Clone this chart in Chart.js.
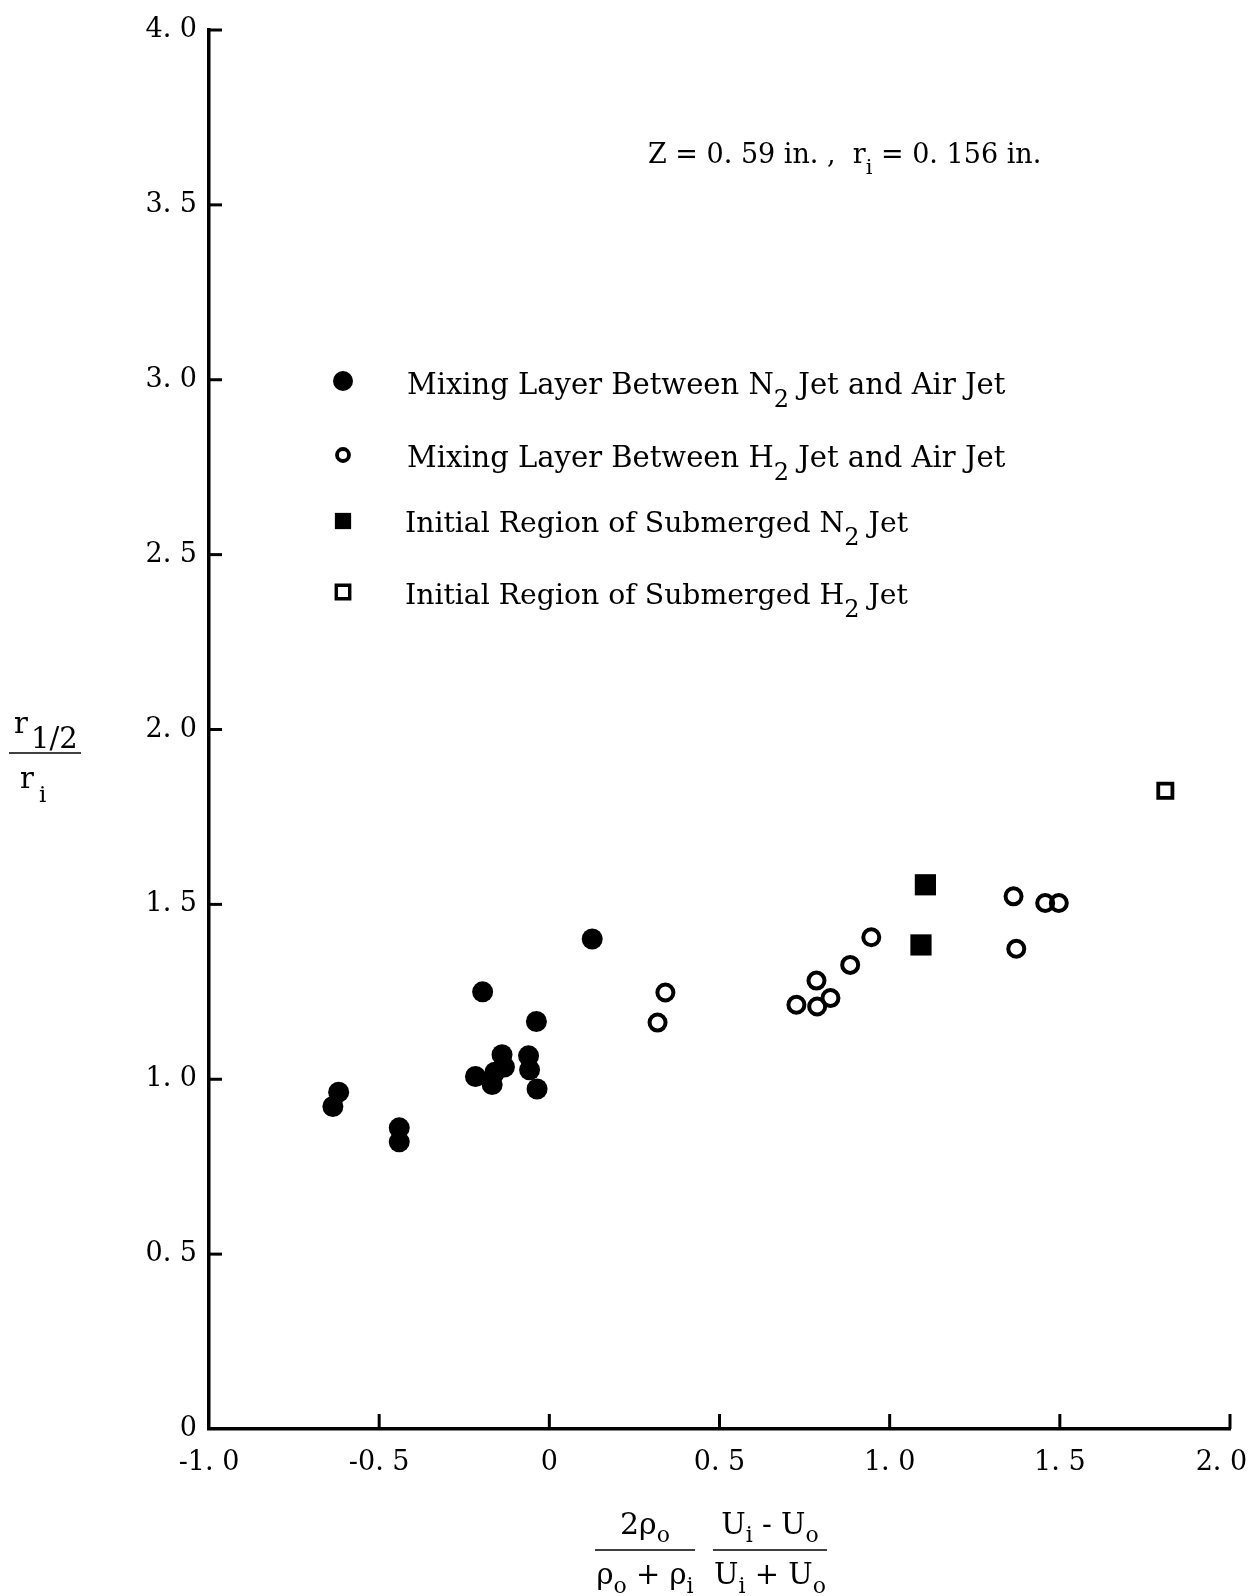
<!DOCTYPE html>
<html><head><meta charset="utf-8">
<script src="https://cdn.jsdelivr.net/npm/chart.js@4.4.1/dist/chart.umd.min.js"></script>
<style>html,body{margin:0;padding:0;background:#fff;}canvas{display:block;background:#fff;}</style>
</head><body>
<canvas id="c" width="1249" height="1596"></canvas>
<script>
// ---- data ----
const xTickLabels = ["-1. 0", "-0. 5", "0", "0. 5", "1. 0", "1. 5", "2. 0  "];
const yTickLabels = ["0", "0. 5", "1. 0", "1. 5", "2. 0", "2. 5", "3. 0", "3. 5", "4. 0"];

const n2MixX = [-0.636, -0.619, -0.441, -0.441, -0.217, -0.196, -0.168, -0.160, -0.139, -0.132, -0.061, -0.058, -0.038, -0.036, 0.126];
const n2MixY = [ 0.922,  0.963,  0.861,  0.821,  1.008,  1.250,  0.985,  1.020,  1.070,  1.035,  1.067,  1.027,  1.165,  0.972, 1.401];

const h2MixX = [0.318, 0.341, 0.726, 0.785, 0.787, 0.826, 0.884, 0.946, 1.364, 1.372, 1.457, 1.497];
const h2MixY = [1.162, 1.248, 1.213, 1.282, 1.208, 1.232, 1.327, 1.406, 1.523, 1.373, 1.504, 1.504];

const n2SubX = [1.105, 1.092];
const n2SubY = [1.556, 1.384];

const h2SubX = [1.810];
const h2SubY = [1.825];

const legendLabels = [
  [["Mixing Layer Between N", 0], ["2", 1], [" Jet and Air Jet", 0]],
  [["Mixing Layer Between H", 0], ["2", 1], [" Jet and Air Jet", 0]],
  [["Initial Region of Submerged N", 0], ["2", 1], [" Jet", 0]],
  [["Initial Region of Submerged H", 0], ["2", 1], [" Jet", 0]]
];
const noteText = [["Z = 0. 59 in. ,  r", 0], ["i", 1], [" = 0. 156 in.", 0]];

const FAM = "'DejaVu Serif', serif";
const toPts = (xs, ys) => xs.map((x, i) => ({x: x, y: ys[i]}));

function drawRich(ctx, parts, x, y, size, subSize, drop, align) {
  let w = 0;
  parts.forEach(p => { ctx.font = (p[1] ? subSize : size) + "px " + FAM; w += ctx.measureText(p[0]).width; });
  let cx = align === 'center' ? x - w / 2 : x;
  parts.forEach(p => {
    ctx.font = (p[1] ? subSize : size) + "px " + FAM;
    ctx.fillText(p[0], cx, y + (p[1] ? drop : 0));
    cx += ctx.measureText(p[0]).width;
  });
  return w;
}

const inwardTicks = {
  id: 'inwardTicks',
  afterDatasetsDraw(chart) {
    const {ctx, chartArea: a, scales: {x, y}} = chart;
    ctx.save();
    ctx.strokeStyle = '#000'; ctx.lineWidth = 3;
    x.ticks.forEach(t => {
      if (t.value === x.min) return;
      const px = x.getPixelForValue(t.value);
      ctx.beginPath(); ctx.moveTo(px, a.bottom); ctx.lineTo(px, a.bottom - 15); ctx.stroke();
    });
    y.ticks.forEach(t => {
      if (t.value === y.min) return;
      const py = y.getPixelForValue(t.value);
      ctx.beginPath(); ctx.moveTo(a.left, py); ctx.lineTo(a.left + 13, py); ctx.stroke();
    });
    ctx.restore();
  }
};

const textOverlay = {
  id: 'textOverlay',
  afterDraw(chart) {
    const ctx = chart.ctx;
    ctx.save();
    ctx.fillStyle = '#000'; ctx.strokeStyle = '#000';
    ctx.textBaseline = 'alphabetic'; ctx.textAlign = 'left';

    // legend
    const rowsY = [381, 455, 521, 592];
    const baseY = [394, 467, 532, 604];
    const sizes = [29, 29, 28.3, 28.3];
    const mk = [
      {style: 'circle', r: 10, fill: '#000', bw: 0},
      {style: 'circle', r: 6, fill: 'rgba(0,0,0,0)', bw: 3.8},
      {style: 'rect', r: 11.5, fill: '#000', bw: 0},
      {style: 'rect', r: 9.5, fill: 'rgba(0,0,0,0)', bw: 3.4}
    ];
    legendLabels.forEach((parts, i) => {
      ctx.fillStyle = mk[i].fill; ctx.lineWidth = mk[i].bw;
      Chart.helpers.drawPoint(ctx, {pointStyle: mk[i].style, radius: mk[i].r, rotation: 0, borderWidth: mk[i].bw}, 343, rowsY[i]);
      ctx.fillStyle = '#000';
      drawRich(ctx, parts, i < 2 ? 407 : 405, baseY[i], sizes[i], 24, 13, 'left');
    });

    // note
    drawRich(ctx, noteText, 648, 163, 27, 21, 11, 'left');

    // y title
    ctx.textAlign = 'left';
    ctx.font = "29px " + FAM; ctx.fillText("r", 14, 733);
    ctx.font = "29px " + FAM; ctx.fillText("1/2", 31, 748);
    ctx.lineWidth = 1.5; ctx.beginPath(); ctx.moveTo(9, 753); ctx.lineTo(81, 753); ctx.stroke();
    ctx.font = "29px " + FAM; ctx.fillText("r", 20, 788);
    ctx.font = "23px " + FAM; ctx.fillText("i", 39, 802);

    // x title
    const f1 = 645, f2 = 770, lineY = 1550;
    ctx.lineWidth = 1.5;
    ctx.beginPath(); ctx.moveTo(595, lineY); ctx.lineTo(695, lineY); ctx.stroke();
    ctx.beginPath(); ctx.moveTo(713, lineY); ctx.lineTo(827, lineY); ctx.stroke();
    drawRich(ctx, [["2ρ", 0], ["o", 1]], f1, 1534, 30, 22, 8, 'center');
    drawRich(ctx, [["ρ", 0], ["o", 1], [" + ρ", 0], ["i", 1]], f1, 1584, 29, 22, 9, 'center');
    drawRich(ctx, [["U", 0], ["i", 1], [" - U", 0], ["o", 1]], f2, 1534, 29, 22, 8, 'center');
    drawRich(ctx, [["U", 0], ["i", 1], [" + U", 0], ["o", 1]], f2, 1584, 29, 22, 9, 'center');
    ctx.restore();
  }
};

Chart.defaults.font.family = FAM;
Chart.defaults.color = '#000';

new Chart(document.getElementById('c'), {
  type: 'scatter',
  data: {
    datasets: [
      {label: 'N2 mixing', data: toPts(n2MixX, n2MixY), pointStyle: 'circle', pointRadius: 10.5, backgroundColor: '#000', borderColor: '#000', borderWidth: 0},
      {label: 'H2 mixing', data: toPts(h2MixX, h2MixY), pointStyle: 'circle', pointRadius: 8, backgroundColor: 'rgba(0,0,0,0)', borderColor: '#000', borderWidth: 4},
      {label: 'N2 submerged', data: toPts(n2SubX, n2SubY), pointStyle: 'rect', pointRadius: 15, backgroundColor: '#000', borderColor: '#000', borderWidth: 0},
      {label: 'H2 submerged', data: toPts(h2SubX, h2SubY), pointStyle: 'rect', pointRadius: 10, backgroundColor: 'rgba(0,0,0,0)', borderColor: '#000', borderWidth: 3.8}
    ]
  },
  options: {
    responsive: false,
    animation: false,
    events: [],
    layout: {padding: {top: 30, right: 19, left: 0, bottom: 0}},
    plugins: {legend: {display: false}, tooltip: {enabled: false}},
    scales: {
      x: {
        type: 'linear', min: -1, max: 2,
        ticks: {stepSize: 0.5, autoSkip: false, maxRotation: 0, padding: 18, color: '#000', font: {size: 27},
          callback: (v, i) => xTickLabels[i]},
        grid: {display: true, drawOnChartArea: false, drawTicks: false},
        border: {display: true, color: '#000', width: 3.5},
        afterFit(s) { s.height = 167; s.paddingLeft = 0; s.paddingRight = 0; }
      },
      y: {
        type: 'linear', min: 0, max: 4,
        ticks: {stepSize: 0.5, autoSkip: false, padding: 12, color: '#000', font: {size: 27},
          callback: (v, i) => yTickLabels[i]},
        grid: {display: true, drawOnChartArea: false, drawTicks: false},
        border: {display: true, color: '#000', width: 3.5},
        afterFit(s) { s.width = 209; s.paddingTop = 0; s.paddingBottom = 0; }
      }
    }
  },
  plugins: [inwardTicks, textOverlay]
});
</script>
</body></html>
